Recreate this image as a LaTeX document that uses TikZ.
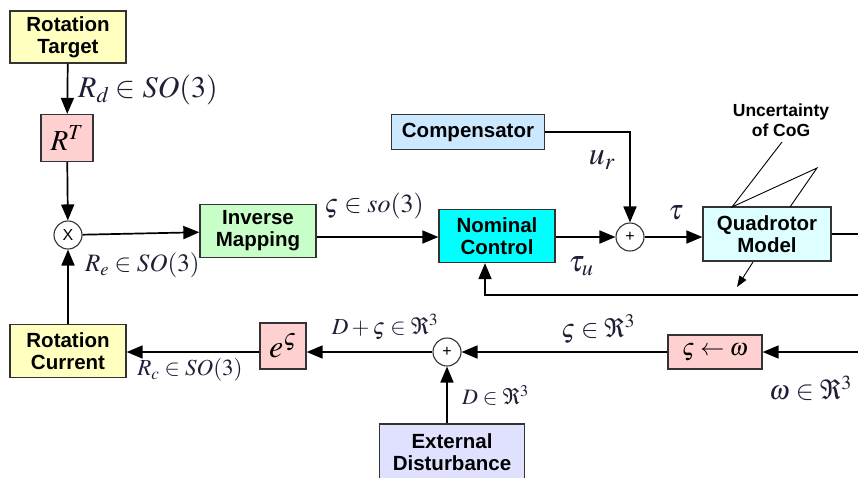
\documentclass[tikz,border=0pt]{standalone}
\usepackage{mathptmx}
\usepackage[no-math]{fontspec}
\setmainfont{Liberation Sans}
\usetikzlibrary{arrows.meta}
\definecolor{ylw}{HTML}{FFFFC0}
\definecolor{pnk}{HTML}{FFD0D0}
\definecolor{grn}{HTML}{C8FFC8}
\definecolor{cyn}{HTML}{00FFFF}
\definecolor{cmp}{HTML}{CCE8FF}
\definecolor{qdr}{HTML}{DDFFFF}
\definecolor{ext}{HTML}{E0E0FF}
\definecolor{mth}{HTML}{1E1E36}
\tikzset{
  blk/.style={draw=black!80, line width=1.3pt, align=center, inner sep=0pt,
    font=\fontsize{20.5}{22}\selectfont\bfseries},
  sumc/.style={draw=black!80, circle, line width=1.1pt, fill=white, minimum size=28pt, inner sep=0pt,
    font=\fontsize{16}{16}\selectfont},
  arr/.style={line width=1.7pt, -{Triangle[length=16pt,width=13pt]}},
  ln/.style={line width=1.7pt},
  thin/.style={line width=0.9pt},
  lbl/.style={text=mth, inner sep=0pt},
}
\begin{document}
\begin{tikzpicture}[x=1pt,y=-1pt]
\useasboundingbox (0,0) rectangle (858,477);
% nodes
\node[blk, fill=ylw, minimum width=116, minimum height=52] (tgt) at (68,37) {Rotation\\Target};
\node[blk, fill=pnk, minimum width=52, minimum height=47, font=\fontsize{29}{29}\selectfont] (rt) at (67,138) {$R^{T}$};
\node[sumc] (mul) at (68,235) {X};
\node[blk, fill=grn, minimum width=116, minimum height=53] (inv) at (258,231) {Inverse\\Mapping};
\node[blk, fill=cyn, minimum width=116, minimum height=53] (nom) at (497,236) {Nominal\\Control};
\node[blk, fill=cmp, minimum width=153, minimum height=35] (comp) at (468,132) {Compensator};
\node[sumc] (p1) at (630,237) {+};
\node[blk, fill=qdr, minimum width=128, minimum height=54] (quad) at (767,234) {Quadrotor\\Model};
\node[font=\fontsize{17.5}{20}\selectfont\bfseries, align=center, inner sep=0pt] (unc) at (781,120) {Uncertainty\\of CoG};
\node[blk, fill=pnk, minimum width=94, minimum height=34, font=\fontsize{24}{24}\selectfont\normalfont] (conv) at (715,352) {$\varsigma\leftarrow\omega$};
\node[sumc] (p2) at (447,352) {+};
\node[blk, fill=pnk, minimum width=46, minimum height=46, font=\fontsize{32}{32}\selectfont\normalfont] (exp) at (283,346) {$e^{\varsigma}$};
\node[blk, fill=ylw, minimum width=116, minimum height=53] (cur) at (68,351) {Rotation\\Current};
\node[blk, fill=ext, minimum width=145, minimum height=56] (ext) at (452,452) {External\\Disturbance};
% free ends
\coordinate (qR) at (858,234);
\coordinate (fbR) at (858,295);
\coordinate (wR) at (858,352);
\coordinate (u1) at (782,142);
\coordinate (u2) at (817,168);
\coordinate (q1) at (732,207);
\coordinate (q2) at (790,207);
\coordinate (a1) at (753,262);
\coordinate (a2) at (737,287);
% connectors
\draw[arr] (tgt) -- (rt);
\draw[arr] (rt) -- (mul);
\draw[arr] (mul) -- (inv);
\draw[arr] (inv.east |- 0,237) -- (nom.west |- 0,237);
\draw[arr] (nom.east |- p1) -- (p1);
\draw[arr] (comp.east) -| (p1.north);
\draw[arr] (p1) -- (quad.west |- p1);
\draw[ln] (quad.east |- qR) -- (qR);
\draw[arr] (fbR) -| ([xshift=-12pt]nom.south);
\draw[arr] (wR) -- (conv);
\draw[arr] (conv) -- (p2);
\draw[arr] (p2) -- (exp.east |- p2);
\draw[arr] (exp.west |- p2) -- (cur.east |- p2);
\draw[arr] (cur) -- (mul);
\draw[arr] (ext.north -| p2) -- (p2);
\draw[thin] (u1) -- (q1) -- (u2) -- (q2);
\draw[thin, -{Triangle[length=11pt,width=8pt]}] (a1) -- (a2);
% labels
\node[lbl, anchor=west, font=\fontsize{30}{30}\selectfont] (lrd) at (78,90) {$R_{d}\in SO(3)$};
\node[lbl, anchor=west, font=\fontsize{25}{25}\selectfont] (lre) at (85,265) {$R_{e}\in SO(3)$};
\node[lbl, font=\fontsize{26}{26}\selectfont] (lsg) at (374,206) {$\varsigma\in so(3)$};
\node[lbl, font=\fontsize{32}{32}\selectfont] (lur) at (602,160) {$u_{r}$};
\node[lbl, font=\fontsize{30}{30}\selectfont] (ltu) at (581,266) {$\tau_{u}$};
\node[lbl, font=\fontsize{28}{28}\selectfont] (lt) at (676,213) {$\tau$};
\node[lbl, font=\fontsize{23}{23}\selectfont] (ldz) at (385,327) {$D+\varsigma\in\Re^{3}$};
\node[lbl, font=\fontsize{26}{26}\selectfont] (lz) at (598,329) {$\varsigma\in\Re^{3}$};
\node[lbl, anchor=west, font=\fontsize{27}{27}\selectfont] (lw) at (769,388) {$\omega\in\Re^{3}$};
\node[lbl, anchor=west, font=\fontsize{22}{22}\selectfont] (ld) at (462,395) {$D\in\Re^{3}$};
\node[lbl, font=\fontsize{23}{23}\selectfont] (lrc) at (190,370) {$R_{c}\in SO(3)$};
\end{tikzpicture}
\end{document}
